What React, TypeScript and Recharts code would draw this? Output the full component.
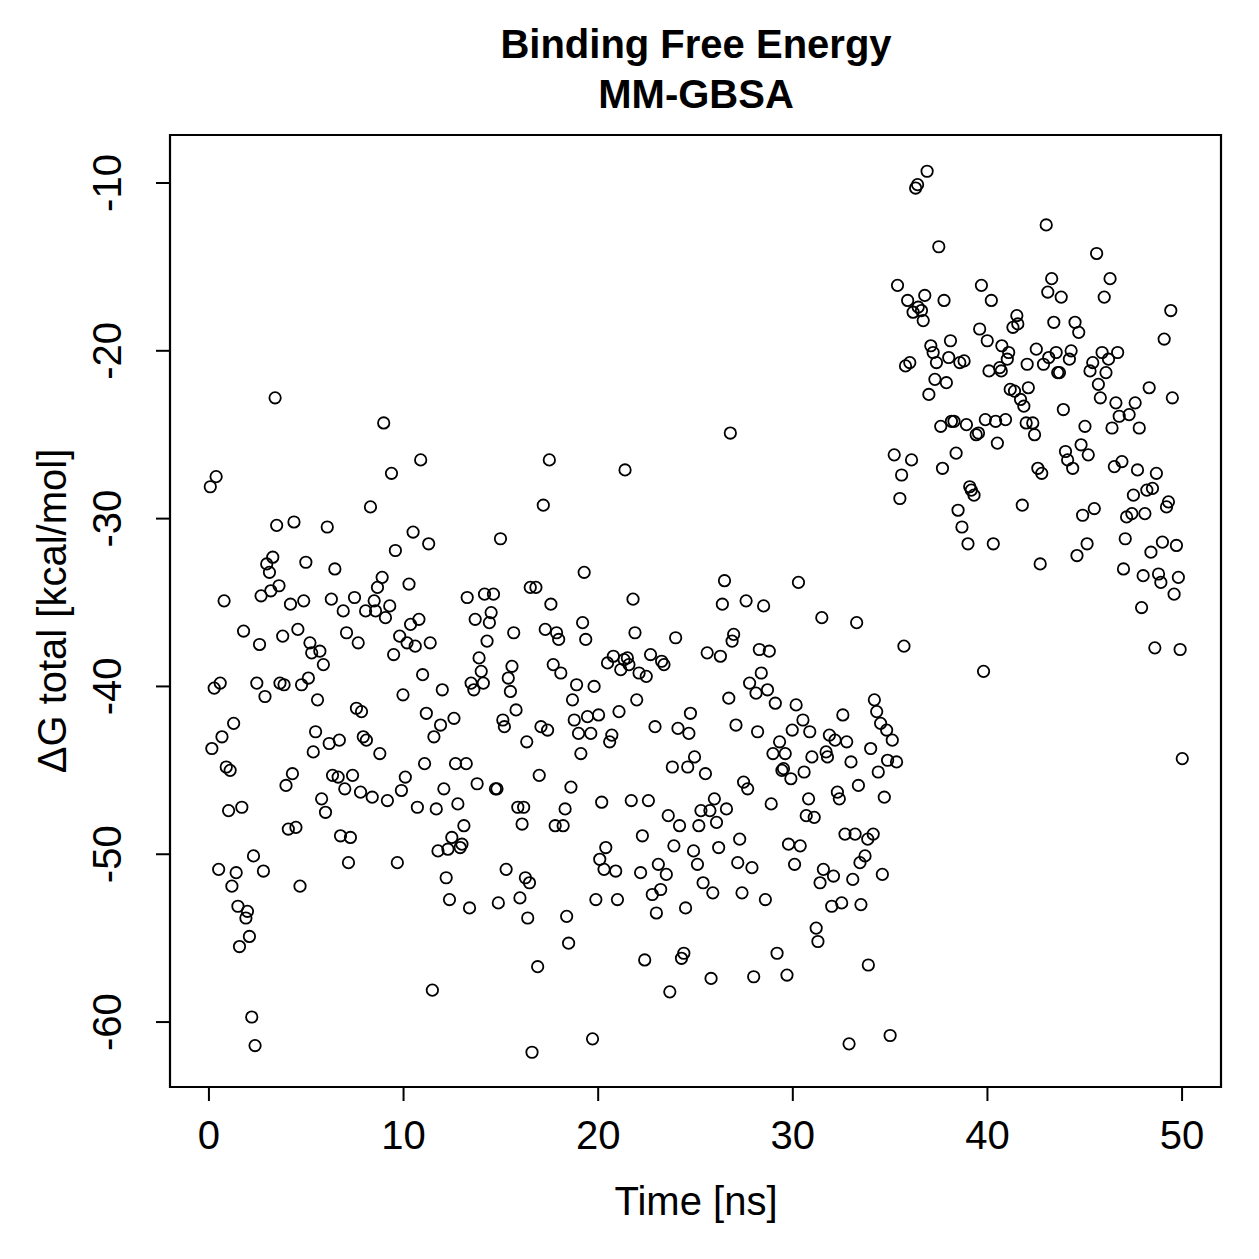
import { ScatterChart, Scatter, XAxis, YAxis, ReferenceArea } from "recharts";

// [time (ns), ΔG total (kcal/mol)], split by time window
const window0to8: [number, number][] = [
  [0.07, -28.1], [0.37, -27.5], [0.15, -43.7], [0.27, -40.1], [0.58, -39.8], [0.78, -34.9], [0.67, -43.0],
  [0.89, -44.8], [1.09, -45.0], [1.01, -47.4], [1.27, -42.2], [0.5, -50.9], [1.18, -51.9], [1.4, -51.1],
  [1.49, -53.1], [1.69, -47.2], [1.78, -36.7], [1.9, -53.8], [1.98, -53.4], [1.57, -55.5], [2.08, -54.9],
  [2.2, -59.7], [2.37, -61.4], [2.29, -50.1], [2.46, -39.8], [2.6, -37.5], [2.68, -34.6], [2.8, -51.0],
  [2.88, -40.6], [2.97, -32.7], [3.11, -33.2], [3.28, -32.3], [3.18, -34.3], [3.4, -22.8], [3.48, -30.4],
  [3.6, -34.0], [3.65, -39.8], [3.79, -37.0], [3.86, -39.9], [3.96, -45.9], [4.08, -48.5], [4.19, -35.1],
  [4.29, -45.2], [4.37, -30.2], [4.47, -48.4], [4.57, -36.6], [4.68, -51.9], [4.76, -39.9], [4.87, -34.9],
  [4.98, -32.6], [5.11, -39.5], [5.19, -37.4], [5.28, -38.0], [5.36, -43.9], [5.48, -42.7], [5.58, -40.8],
  [5.7, -37.9], [5.79, -46.7], [5.88, -38.7], [5.99, -47.5], [6.08, -30.5], [6.18, -43.4], [6.29, -34.8],
  [6.35, -45.3], [6.47, -33.0], [6.64, -45.4], [6.7, -43.2], [6.76, -48.9], [6.9, -35.5], [6.98, -46.1],
  [7.07, -36.8], [7.17, -50.5], [7.27, -49.0], [7.38, -45.3], [7.48, -34.7], [7.58, -41.3], [7.67, -37.4],
  [7.79, -46.3], [7.84, -41.5], [7.93, -43.0], [8.05, -35.5], [8.09, -43.2],
];

const window8to16: [number, number][] = [
  [8.3, -29.3], [8.39, -46.6], [8.49, -34.9], [8.56, -35.5], [8.66, -34.1], [8.78, -44.0], [8.9, -33.5],
  [8.98, -24.3], [9.07, -35.9], [9.17, -46.8], [9.29, -35.2], [9.38, -27.3], [9.49, -38.1], [9.58, -31.9],
  [9.68, -50.5], [9.8, -37.0], [9.89, -46.2], [9.97, -40.5], [10.09, -45.4], [10.18, -37.4], [10.28, -33.9],
  [10.36, -36.3], [10.49, -30.8], [10.6, -37.6], [10.71, -47.2], [10.79, -36.0], [10.88, -26.5], [10.98, -39.3],
  [11.08, -44.6], [11.17, -41.6], [11.29, -31.5], [11.37, -37.4], [11.48, -58.1], [11.56, -43.0], [11.68, -47.3],
  [11.77, -49.8], [11.9, -42.3], [11.99, -40.2], [12.07, -46.1], [12.19, -51.4], [12.28, -49.7], [12.36, -52.7],
  [12.48, -49.0], [12.59, -41.9], [12.67, -44.6], [12.79, -47.0], [12.91, -49.6], [13.0, -49.4], [13.1, -48.3],
  [13.22, -44.6], [13.27, -34.7], [13.39, -53.2], [13.47, -39.8], [13.61, -40.2], [13.68, -36.0], [13.78, -45.8],
  [13.88, -38.3], [13.99, -39.1], [14.1, -39.8], [14.16, -34.5], [14.29, -37.3], [14.41, -36.2], [14.5, -35.6],
  [14.62, -34.5], [14.72, -46.1], [14.8, -46.1], [14.87, -52.9], [14.98, -31.2], [15.1, -42.0], [15.18, -42.4],
  [15.27, -50.9], [15.38, -39.5], [15.49, -40.3], [15.57, -38.8], [15.66, -36.8], [15.78, -41.4], [15.87, -47.2],
  [15.98, -52.6], [16.09, -48.2], [16.17, -47.2], [16.26, -51.4], [16.33, -43.3], [16.38, -53.8], [16.47, -51.7],
  [16.51, -34.1], [16.6, -61.8],
];

const window16to25: [number, number][] = [
  [16.8, -34.1], [16.89, -56.7], [16.97, -45.3], [17.06, -42.4], [17.18, -29.2], [17.28, -36.6], [17.4, -42.6],
  [17.49, -26.5], [17.57, -35.1], [17.69, -38.7], [17.79, -48.3], [17.86, -36.8], [17.97, -37.2], [18.08, -39.2],
  [18.2, -48.3], [18.3, -47.3], [18.38, -53.7], [18.48, -55.3], [18.6, -46.0], [18.68, -40.8], [18.77, -42.0],
  [18.89, -39.9], [18.99, -42.8], [19.11, -44.0], [19.2, -36.2], [19.28, -33.2], [19.36, -37.2], [19.45, -41.8],
  [19.62, -42.8], [19.71, -61.0], [19.79, -40.0], [19.88, -52.7], [20.02, -41.7], [20.08, -50.3], [20.18, -46.9],
  [20.3, -50.9], [20.39, -49.6], [20.48, -38.6], [20.59, -43.3], [20.7, -42.9], [20.78, -38.2], [20.9, -51.0],
  [20.99, -52.7], [21.07, -41.5], [21.16, -39.0], [21.33, -38.4], [21.38, -27.1], [21.5, -38.3], [21.58, -38.7],
  [21.7, -46.8], [21.79, -34.8], [21.89, -36.8], [21.98, -40.8], [22.1, -39.2], [22.18, -51.1], [22.27, -48.9],
  [22.39, -56.3], [22.47, -39.4], [22.58, -46.8], [22.69, -38.1], [22.78, -52.4], [22.92, -42.4], [22.99, -53.5],
  [23.09, -50.6], [23.21, -52.1], [23.26, -38.5], [23.38, -38.7], [23.5, -51.2], [23.6, -47.7], [23.68, -58.2],
  [23.81, -44.8], [23.89, -49.5], [23.98, -37.1], [24.1, -42.5], [24.18, -48.3], [24.28, -56.2], [24.4, -55.9],
  [24.49, -53.2], [24.6, -44.8], [24.66, -42.8], [24.74, -41.6], [24.9, -49.8], [24.95, -44.2],
];

const window25to33: [number, number][] = [
  [25.1, -50.6], [25.17, -48.3], [25.28, -47.4], [25.39, -51.7], [25.51, -45.2], [25.6, -38.0], [25.74, -47.4],
  [25.8, -57.4], [25.89, -52.3], [25.97, -46.7], [26.08, -48.1], [26.19, -49.6], [26.28, -38.2], [26.38, -35.1],
  [26.49, -33.7], [26.59, -47.3], [26.71, -40.7], [26.79, -24.9], [26.88, -37.3], [26.96, -36.9], [27.08, -42.3],
  [27.17, -50.5], [27.27, -49.1], [27.39, -52.3], [27.47, -45.7], [27.6, -34.9], [27.68, -46.1], [27.78, -39.8],
  [27.9, -50.8], [27.99, -57.3], [28.11, -40.4], [28.19, -42.7], [28.28, -37.8], [28.38, -39.2], [28.5, -35.2],
  [28.59, -52.7], [28.7, -40.2], [28.79, -37.9], [28.89, -47.0], [28.98, -44.0], [29.1, -41.0], [29.19, -55.9],
  [29.32, -43.3], [29.44, -45.0], [29.52, -44.9], [29.61, -44.0], [29.7, -57.2], [29.78, -49.4], [29.9, -45.5],
  [29.97, -42.6], [30.09, -50.6], [30.17, -41.1], [30.29, -33.8], [30.38, -49.5], [30.52, -42.0], [30.58, -45.1],
  [30.69, -47.7], [30.81, -46.7], [30.87, -42.7], [30.98, -44.2], [31.1, -47.8], [31.2, -54.4], [31.29, -55.2],
  [31.4, -51.7], [31.49, -35.9], [31.57, -50.9], [31.71, -43.9], [31.78, -44.2], [31.88, -42.9], [32.0, -53.1],
  [32.09, -51.3], [32.17, -43.2], [32.29, -46.3], [32.39, -46.7], [32.51, -52.9], [32.57, -41.7], [32.68, -48.8],
  [32.77, -43.3], [32.89, -61.3], [32.99, -44.5], [33.08, -51.5], [33.2, -48.8], [33.28, -36.2], [33.37, -45.9],
  [33.45, -50.5], [33.5, -53.0],
];

const window33to42: [number, number][] = [
  [33.71, -50.1], [33.85, -49.1], [33.88, -56.6], [34.0, -43.7], [34.13, -48.8], [34.19, -40.8], [34.31, -41.5],
  [34.39, -45.1], [34.51, -42.2], [34.6, -51.2], [34.7, -46.6], [34.82, -42.6], [34.87, -44.4], [35.0, -60.8],
  [35.11, -43.2], [35.21, -26.2], [35.33, -44.5], [35.38, -16.1], [35.5, -28.8], [35.59, -27.4], [35.71, -37.6],
  [35.79, -20.9], [35.9, -17.0], [36.01, -20.7], [36.1, -26.5], [36.18, -17.7], [36.31, -10.3], [36.41, -10.1],
  [36.44, -17.4], [36.61, -17.6], [36.7, -18.2], [36.78, -16.7], [36.9, -9.3], [36.99, -22.6], [37.09, -19.7],
  [37.21, -20.1], [37.3, -21.7], [37.38, -20.7], [37.5, -13.8], [37.6, -24.5], [37.69, -27.0], [37.77, -17.0],
  [37.89, -21.9], [38.01, -20.4], [38.1, -19.4], [38.15, -24.2], [38.28, -24.2], [38.39, -26.1], [38.49, -29.5],
  [38.58, -20.7], [38.69, -30.5], [38.8, -20.6], [38.92, -24.4], [39.0, -31.5], [39.09, -28.1], [39.17, -28.3],
  [39.31, -28.6], [39.42, -25.0], [39.54, -24.9], [39.6, -18.7], [39.69, -16.1], [39.8, -39.1], [39.89, -24.1],
  [39.99, -19.4], [40.08, -21.2], [40.2, -17.0], [40.3, -31.5], [40.42, -24.2], [40.51, -25.5], [40.63, -21.0],
  [40.71, -21.2], [40.74, -19.7], [40.93, -24.1], [41.02, -20.5], [41.09, -20.1], [41.17, -22.3], [41.31, -18.6],
  [41.39, -22.4], [41.51, -17.9], [41.56, -18.4], [41.7, -22.9], [41.79, -29.2], [41.87, -23.3], [41.99, -24.3],
  [42.04, -20.8], [42.1, -22.2],
];

const window42to50: [number, number][] = [
  [42.33, -24.3], [42.42, -25.0], [42.51, -19.9], [42.59, -27.0], [42.71, -32.7], [42.79, -27.3], [42.88, -20.8],
  [43.02, -12.5], [43.1, -16.5], [43.15, -20.4], [43.3, -15.7], [43.41, -18.3], [43.53, -20.1], [43.61, -21.3],
  [43.7, -21.3], [43.79, -16.8], [43.9, -23.5], [44.01, -26.0], [44.12, -26.5], [44.21, -20.5], [44.3, -20.0],
  [44.38, -27.0], [44.5, -18.3], [44.6, -32.2], [44.69, -18.9], [44.81, -25.6], [44.89, -29.8], [45.01, -24.5],
  [45.12, -31.5], [45.18, -26.2], [45.27, -21.2], [45.41, -20.7], [45.49, -29.4], [45.61, -14.2], [45.7, -22.0],
  [45.8, -22.8], [45.89, -20.1], [46.0, -16.8], [46.09, -21.3], [46.22, -20.5], [46.3, -15.7], [46.4, -24.6],
  [46.52, -26.9], [46.6, -23.1], [46.69, -20.1], [46.77, -23.9], [46.91, -26.6], [46.99, -33.0], [47.08, -31.2],
  [47.15, -29.9], [47.28, -23.8], [47.42, -29.7], [47.5, -28.6], [47.59, -23.1], [47.71, -27.1], [47.8, -24.6],
  [47.92, -35.3], [48.0, -33.4], [48.09, -29.7], [48.19, -28.3], [48.31, -22.2], [48.4, -32.0], [48.48, -28.2],
  [48.6, -37.7], [48.68, -27.3], [48.79, -33.3], [48.91, -33.8], [48.99, -31.4], [49.08, -19.3], [49.2, -29.3],
  [49.3, -29.0], [49.42, -17.6], [49.5, -22.8], [49.59, -34.5], [49.71, -31.6], [49.81, -33.5], [49.9, -37.8],
  [50.01, -44.3],
];

const xTicks = [0, 10, 20, 30, 40, 50];
const yTicks = [-60, -50, -40, -30, -20, -10];

const X_DOMAIN: [number, number] = [-2, 52];
const Y_DOMAIN: [number, number] = [-63.87, -7.14];

const FONT = '"Liberation Sans", Arial, Helvetica, sans-serif';

const points = [
  ...window0to8,
  ...window8to16,
  ...window16to25,
  ...window25to33,
  ...window33to42,
  ...window42to50,
].map(([t, g]) => ({ t, g }));

const Ring = (props: any) => (
  <circle cx={props.cx} cy={props.cy} r={5.7} fill="none" stroke="#000" strokeWidth={1.8} />
);

const XTick = ({ x, y, payload }: any) => (
  <text x={x} y={y} dy={48} textAnchor="middle" fontSize={40} fontFamily={FONT} fill="#000">
    {payload.value}
  </text>
);

const YTick = ({ x, y, payload }: any) => {
  const bx = x - 35;
  return (
    <text
      x={bx}
      y={y}
      transform={`rotate(-90, ${bx}, ${y})`}
      textAnchor="middle"
      fontSize={40}
      fontFamily={FONT}
      fill="#000"
    >
      {payload.value}
    </text>
  );
};

export default function App() {
  return (
    <div style={{ position: "absolute", left: 0, top: 0, width: 1259, height: 1259, background: "#fff" }}>
      <ScatterChart width={1259} height={1259} margin={{ top: 135, right: 38, bottom: 112, left: 110 }}>
        <XAxis
          type="number"
          dataKey="t"
          domain={X_DOMAIN}
          allowDataOverflow
          ticks={xTicks}
          height={60}
          axisLine={false}
          tickSize={14}
          tickMargin={0}
          tickLine={{ stroke: "#000", strokeWidth: 2 }}
          tick={<XTick />}
        />
        <YAxis
          type="number"
          dataKey="g"
          domain={Y_DOMAIN}
          allowDataOverflow
          ticks={yTicks}
          width={60}
          axisLine={false}
          tickSize={14}
          tickMargin={0}
          tickLine={{ stroke: "#000", strokeWidth: 2 }}
          tick={<YTick />}
        />
        <ReferenceArea
          x1={X_DOMAIN[0]}
          x2={X_DOMAIN[1]}
          y1={Y_DOMAIN[0]}
          y2={Y_DOMAIN[1]}
          fill="none"
          fillOpacity={0}
          stroke="#000"
          strokeWidth={2.2}
          ifOverflow="visible"
        />
        <Scatter data={points} shape={<Ring />} isAnimationActive={false} />
      </ScatterChart>
      <svg
        width={1259}
        height={1259}
        style={{ position: "absolute", left: 0, top: 0, pointerEvents: "none" }}
        fontFamily={FONT}
      >
        <text x={696} y={58} textAnchor="middle" fontSize={40} fontWeight="bold" fill="#000">
          Binding Free Energy
        </text>
        <text x={696} y={108} textAnchor="middle" fontSize={40} fontWeight="bold" fill="#000">
          MM-GBSA
        </text>
        <text x={696} y={1215} textAnchor="middle" fontSize={40} fill="#000">
          Time [ns]
        </text>
        <text x={66} y={611} transform="rotate(-90, 66, 611)" textAnchor="middle" fontSize={40} fill="#000">
          ΔG total [kcal/mol]
        </text>
      </svg>
    </div>
  );
}
